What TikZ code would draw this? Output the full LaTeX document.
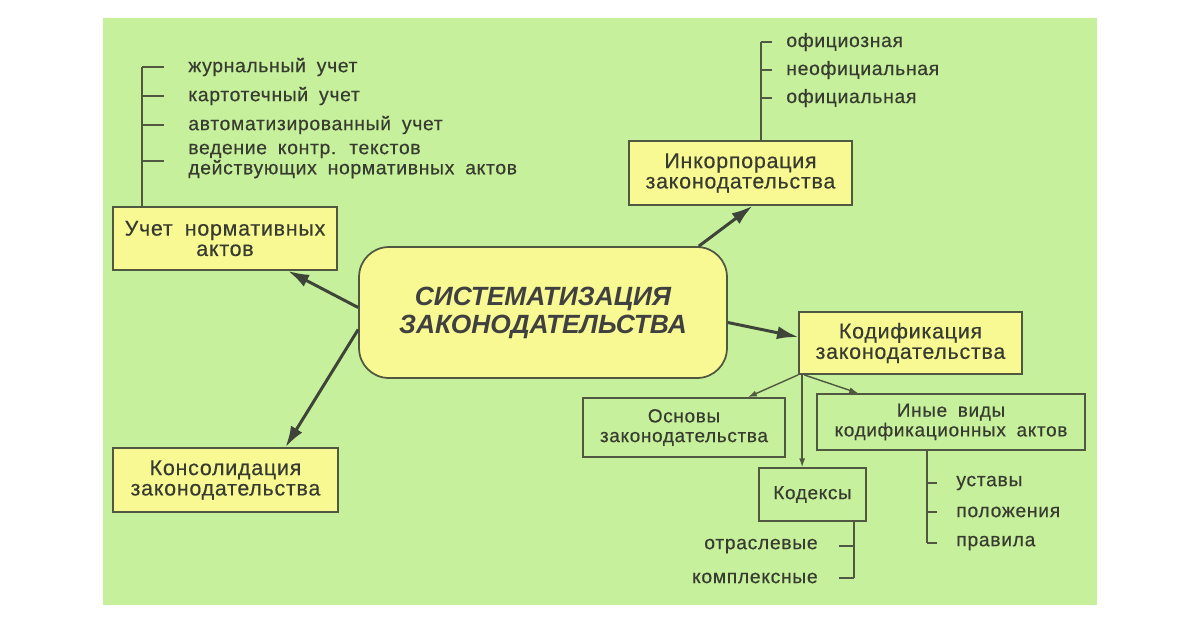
\documentclass[tikz,border=0pt]{standalone}
\usepackage{fontspec}
\setmainfont{Liberation Sans}
\newfontfamily\boxfont{Liberation Sans}[LetterSpace=3.5,WordSpace=1.8,FakeBold=0.4]
\usetikzlibrary{arrows.meta,calc,positioning}

\definecolor{bggreen}{RGB}{198,240,155}
\definecolor{boxyellow}{RGB}{249,249,148}
\definecolor{edgecol}{RGB}{80,88,66}
\definecolor{textcol}{RGB}{56,60,48}
\definecolor{arrowcol}{RGB}{62,68,58}

\tikzset{mybox/.style={
  shape=rectangle,
  draw=edgecol,
  fill=boxyellow,
  line width=1pt,
  text=textcol,
  align=center,
  inner sep=0pt,
  font=\boxfont\fontsize{12.2}{11.6}\selectfont,
  },
  mybox2/.style={
  mybox,
  fill=bggreen,
  font=\boxfont\fontsize{10.8}{11.2}\selectfont,
  },
  mycenter/.style={
  mybox,
  rounded corners=17pt,
  text=black!75,
  font=\bfseries\itshape\fontsize{15}{16}\selectfont,
  },
  myitem/.style={
  text=textcol,
  inner sep=0pt,
  align=left,
  font=\boxfont\fontsize{11}{10.4}\selectfont,
  },
  mybig/.style={draw=arrowcol, line width=1.7pt, -{Latex[length=12pt,width=7.5pt]}},
  mythin/.style={draw=edgecol, line width=0.8pt, -{Latex[length=5pt,width=3.5pt]}},
  myline/.style={draw=edgecol, line width=0.8pt},
  }

\begin{document}
\begin{tikzpicture}[x=0.02cm,y=-0.02cm]
  \useasboundingbox (0,0) rectangle (1200,630);
  \fill[bggreen] (103,18) rectangle (1097,605);

  % boxes
  \node[mycenter, minimum width=7.36cm, minimum height=2.62cm] (sys) at (543,312.5) {СИСТЕМАТИЗАЦИЯ\\ЗАКОНОДАТЕЛЬСТВА};
  \node[mybox, minimum width=4.48cm, minimum height=1.26cm] (uchet) at (225,238.5) {Учет нормативных\\актов};
  \node[mybox, minimum width=4.46cm, minimum height=1.28cm] (inkorp) at (740.5,173) {Инкорпорация\\законодательства};
  \node[mybox, minimum width=4.46cm, minimum height=1.24cm] (kodif) at (910.5,343) {Кодификация\\законодательства};
  \node[mybox, minimum width=4.5cm, minimum height=1.28cm] (konsol) at (225.5,480) {Консолидация\\законодательства};
  \node[mybox2, minimum width=4.04cm, minimum height=1.18cm] (osnovy) at (684,427.5) {Основы\\законодательства};
  \node[mybox2, minimum width=5.36cm, minimum height=1.12cm] (inye) at (951,422) {Иные виды\\кодификационных актов};
  \node[mybox2, minimum width=2.14cm, minimum height=1.06cm] (kodeksy) at (812.5,494.5) {Кодексы};

  % lists
  \node[myitem, anchor=west] (u1) at (188,67) {журнальный учет};
  \node[myitem, anchor=west] (u2) at (188,96) {картотечный учет};
  \node[myitem, anchor=west] (u3) at (188,125) {автоматизированный учет};
  \node[myitem, anchor=west] (u4) at (188,161) {ведение контр. текстов\\действующих нормативных актов};

  \node[myitem, anchor=west] (i1) at (786,42) {официозная};
  \node[myitem, anchor=west] (i2) at (786,70) {неофициальная};
  \node[myitem, anchor=west] (i3) at (786,98) {официальная};

  \node[myitem, anchor=west] (v1) at (956,483) {уставы};
  \node[myitem, anchor=west] (v2) at (956,512) {положения};
  \node[myitem, anchor=west] (v3) at (956,543) {правила};

  \node[myitem, anchor=east] (k1) at (818,546) {отраслевые};
  \node[myitem, anchor=east] (k2) at (818,578) {комплексные};

  % brackets
  \coordinate (ux) at ($(uchet.north west)+(30,0)$);
  \draw[myline] (ux) -- (ux |- u1.west);
  \foreach \n in {u1,u2,u3,u4}
    \draw[myline] (ux |- \n.west) -- ++(22,0);

  \coordinate (ix) at ($(inkorp.north west)+(133,0)$);
  \draw[myline] (ix) -- (ix |- i1.west);
  \foreach \n in {i1,i2,i3}
    \draw[myline] (ix |- \n.west) -- ++(11,0);

  \coordinate (vx) at ($(inye.south west)+(111,0)$);
  \draw[myline] (vx) -- (vx |- v3.west);
  \foreach \n in {v1,v2,v3}
    \draw[myline] (vx |- \n.west) -- ++(10,0);

  \coordinate (kx) at ($(kodeksy.south east)+(-13,0)$);
  \draw[myline] (kx) -- (kx |- k2.east);
  \foreach \n in {k1,k2}
    \draw[myline] (kx |- \n.east) -- ++(-15,0);

  % arrows
  \draw[mybig] ($(sys.west)+(0,-5)$) -- ($(uchet.south)+(63,0)$);
  \draw[mybig] ($(sys.west)+(0,17)$) -- ($(konsol.north)+(60,0)$);
  \draw[mybig] ($(sys.north east)+(-29,0)$) -- ($(inkorp.south)+(12,0)$);
  \draw[mybig] ($(sys.east)+(0,10)$) -- ($(kodif.west)+(0,-6)$);

  \coordinate (k0) at ($(kodif.south west)+(4,0)$);
  \draw[mythin] (kodif.south west) -- ($(osnovy.north)+(64,0)$);
  \draw[mythin] ($(kodif.south west)+(6,0)$) -- ($(inye.north)+(-93,0)$);
  \draw[mythin] (k0) -- (k0 |- kodeksy.north);
\end{tikzpicture}
\end{document}
